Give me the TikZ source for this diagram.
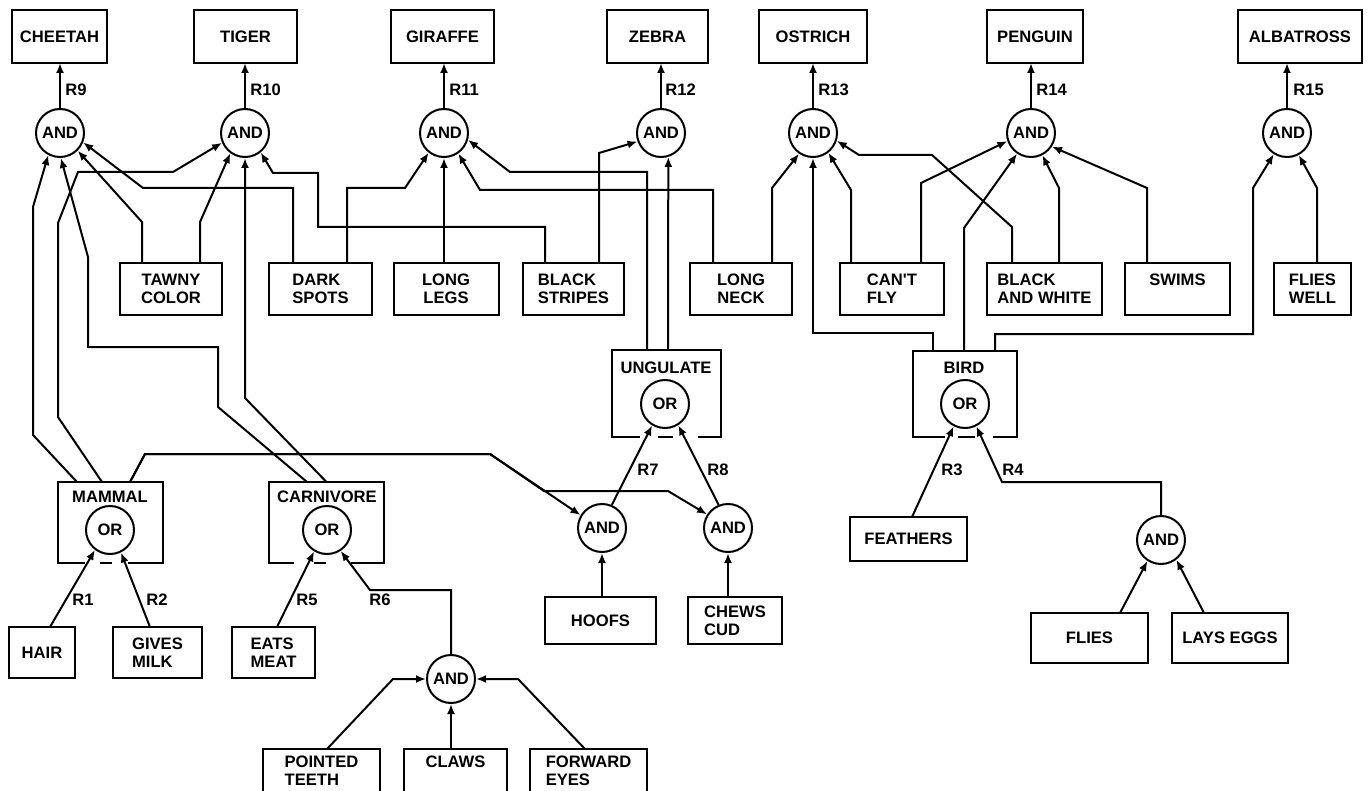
\documentclass[tikz,border=0pt]{standalone}
\usepackage{fontspec}
\setmainfont{Liberation Sans}
\usetikzlibrary{arrows.meta,calc}
\newcommand\labf{\fontsize{8.3}{9}\selectfont\bfseries}
\begin{document}
\begin{tikzpicture}[x=0.5pt,y=-0.5pt,
  wh/.style 2 args={minimum width=#1*0.5pt, minimum height=#2*0.5pt},
  box/.style={draw, line width=1pt, font=\labf, align=left, inner sep=0pt, outer sep=0pt},
  frame/.style={inner sep=0pt, outer sep=0pt},
  gate/.style={draw, circle, line width=1pt, minimum size=24pt, inner sep=0pt, font=\labf},
  lbl/.style={font=\labf, inner sep=0pt},
  wire/.style={line width=1pt},
  arr/.style={wire, -{Latex[length=5pt,width=4pt]}}]
\fill[white] (0,0) rectangle (1370,791);
\useasboundingbox (0,0) rectangle (1370,791);

% top result boxes
\node[box, wh={95}{53}] (cheetah) at (59.5,36.5) {CHEETAH};
\node[box, wh={103}{53}] (tiger) at (245.5,36.5) {TIGER};
\node[box, wh={103}{53}] (giraffe) at (442.5,36.5) {GIRAFFE};
\node[box, wh={101}{53}] (zebra) at (657.5,36.5) {ZEBRA};
\node[box, wh={108}{53}] (ostrich) at (813,36.5) {OSTRICH};
\node[box, wh={96}{53}] (penguin) at (1035,36.5) {PENGUIN};
\node[box, wh={124}{53}] (albatross) at (1300,36.5) {ALBATROSS};

% top AND gates
\node[gate] (and9) at (60,133) {AND};
\node[gate] (and10) at (245,133) {AND};
\node[gate] (and11) at (444,133) {AND};
\node[gate] (and12) at (661,133) {AND};
\node[gate] (and13) at (813,133) {AND};
\node[gate] (and14) at (1031,133) {AND};
\node[gate] (and15) at (1287,133) {AND};

\draw[arr] (and9.north) -- (and9.north |- cheetah.south);
\draw[arr] (and10.north) -- (and10.north |- tiger.south);
\draw[arr] (and11.north) -- (and11.north |- giraffe.south);
\draw[arr] (and12.north) -- (and12.north |- zebra.south);
\draw[arr] (and13.north) -- (and13.north |- ostrich.south);
\draw[arr] (and14.north) -- (and14.north |- penguin.south);
\draw[arr] (and15.north) -- (and15.north |- albatross.south);

\node[lbl, anchor=west] (r9) at (65,90) {R9};
\node[lbl, anchor=west] (r10) at (250,90) {R10};
\node[lbl, anchor=west] (r11) at (449,90) {R11};
\node[lbl, anchor=west] (r12) at (665,90) {R12};
\node[lbl, anchor=west] (r13) at (818,90) {R13};
\node[lbl, anchor=west] (r14) at (1036,90) {R14};
\node[lbl, anchor=west] (r15) at (1293,90) {R15};

% attribute boxes, middle row
\node[box, wh={102}{52}, align=center] (tawny) at (171,289) {TAWNY\\COLOR};
\node[box, wh={103}{52}] (dark) at (320.5,289) {DARK\\SPOTS};
\node[box, wh={105}{52}, align=center] (legs) at (446,289) {LONG\\LEGS};
\node[box, wh={101}{52}] (stripes) at (573.5,289) {BLACK\\STRIPES};
\node[box, wh={102}{52}, align=center] (neck) at (741,289) {LONG\\NECK};
\node[box, wh={104}{52}] (cantfly) at (892,289) {CAN\textquotesingle T\\FLY};
\node[box, wh={115}{52}] (bw) at (1044.5,289) {BLACK\\AND WHITE};
\node[box, wh={105}{52}] (swims) at (1177.5,289) {SWIMS\\\mbox{}};
\node[box, wh={77}{52}] (flieswell) at (1312.5,289) {FLIES\\WELL};

% OR frames
\node[frame, wh={109}{87}] (ungulate) at (666.5,393.5) {};
\node[lbl] (ungulatelbl) at (666,368) {UNGULATE};
\node[gate] (ungor) at (665,404) {OR};
\draw[wire] ($(ungulate.south west)+(28,0)$) -- (ungulate.south west) -- (ungulate.north west) -- (ungulate.north east) -- (ungulate.south east) -- ($(ungulate.south west)+(86,0)$);
\draw[wire] ($(ungulate.south west)+(46,0)$) -- ($(ungulate.south west)+(61,0)$);

\node[frame, wh={104}{86}] (bird) at (965,394) {};
\node[lbl] (birdlbl) at (964,368) {BIRD};
\node[gate] (bor) at (965,404) {OR};
\draw[wire] ($(bird.south west)+(32,0)$) -- (bird.south west) -- (bird.north west) -- (bird.north east) -- (bird.south east) -- ($(bird.south west)+(80,0)$);
\draw[wire] ($(bird.south west)+(45,0)$) -- ($(bird.south west)+(62,0)$);

\node[frame, wh={105}{81}] (mammal) at (110.5,522.5) {};
\node[lbl] (mammallbl) at (110,497) {MAMMAL};
\node[gate] (mor) at (110,530) {OR};
\draw[wire] ($(mammal.south west)+(27,0)$) -- (mammal.south west) -- (mammal.north west) -- (mammal.north east) -- (mammal.south east) -- ($(mammal.south west)+(70,0)$);
\draw[wire] ($(mammal.south west)+(42,0)$) -- ($(mammal.south west)+(54,0)$);

\node[frame, wh={115}{81}] (carn) at (326.5,522.5) {};
\node[lbl] (carnlbl) at (327,497) {CARNIVORE};
\node[gate] (cor) at (327,530) {OR};
\draw[wire] ($(carn.south west)+(25,0)$) -- (carn.south west) -- (carn.north west) -- (carn.north east) -- (carn.south east) -- ($(carn.south west)+(82,0)$);
\draw[wire] ($(carn.south west)+(45,0)$) -- ($(carn.south west)+(57,0)$);

% lower gates and facts
\node[gate] (and7) at (602,528) {AND};
\node[gate] (and8) at (728,528) {AND};
\node[box, wh={111}{47}] (hoofs) at (600.5,620.5) {HOOFS};
\node[box, wh={94}{47}] (chews) at (735,620.5) {CHEWS\\CUD};
\node[box, wh={117}{44}] (feathers) at (908.5,539) {FEATHERS};
\node[gate] (and4) at (1161,540) {AND};
\node[box, wh={117}{50}] (flies) at (1089.5,638) {FLIES};
\node[box, wh={116}{50}] (lays) at (1230,638) {LAYS EGGS};
\node[box, wh={66}{51}] (hair) at (42,652.5) {HAIR};
\node[box, wh={89}{51}] (gives) at (157.5,652.5) {GIVES\\MILK};
\node[box, wh={83}{51}] (eats) at (273.5,652.5) {EATS\\MEAT};
\node[gate] (and6) at (451,679) {AND};
\node[box, wh={117}{44}] (pointed) at (321.5,771) {POINTED\\TEETH};
\node[box, wh={103}{44}] (claws) at (455.5,771) {CLAWS\\\mbox{}};
\node[box, wh={117}{44}] (forward) at (588.5,771) {FORWARD\\EYES};

% rule labels
\node[lbl] (r1) at (83,600) {R1};
\node[lbl] (r2) at (157,600) {R2};
\node[lbl] (r5) at (307,600) {R5};
\node[lbl] (r6) at (380,600) {R6};
\node[lbl] (r7) at (648,470) {R7};
\node[lbl] (r8) at (718,470) {R8};
\node[lbl] (r3) at (952,470) {R3};
\node[lbl] (r4) at (1013,470) {R4};

% connectors into the top AND gates
\draw[arr] ($(mammal.north)+(-33.5,0)$) -- (33,435) -- (33,207) -- (and9.242);
\draw[arr] ($(mammal.north)+(-8.5,0)$) -- (58,417) -- (58,223) -- (78,172) -- (173,172) -- (and10.203);
\draw[arr] ($(carn.north)+(-19.5,0)$) -- (218,407) -- (218,347) -- (88,347) -- (88,257) -- (and9.272);
\draw[arr] (carn.north) -- (245,398) -- (and10.south);
\draw[arr] ($(tawny.north)+(-29,0)$) -- (142,222) -- (and9.315);
\draw[arr] ($(tawny.north)+(29,0)$) -- (200,222) -- (and10.234);
\draw[arr] ($(dark.north)+(-27.5,0)$) -- (293,188) -- (143,188) -- (and9.338);
\draw[arr] ($(dark.north)+(26.5,0)$) -- (347,188) -- (405,188) -- (and11.232);
\draw[arr] (and11.south |- legs.north) -- (and11.south);
\draw[arr] ($(stripes.north)+(-28.5,0)$) -- (545,227) -- (318,227) -- (318,173) -- (273,173) -- (and10.309);
\draw[arr] ($(stripes.north)+(25.5,0)$) -- (599,153) -- (and12.200);
\draw[arr] ($(neck.north)+(-28,0)$) -- (713,190) -- (480,190) -- (and11.305);
\draw[arr] ($(neck.north)+(31,0)$) -- (772,188) -- (and13.236);
\draw[arr] ($(ungulate.north)+(-19.5,0)$) -- (647,172) -- (510,172) -- (and11.344);
\draw[arr] ($(ungulate.north)+(1.5,0)$) -- (and12.287);
\draw[arr] ($(bird.north)+(-32,0)$) -- (933,333) -- (813,333) -- (and13.south);
\draw[arr] ($(cantfly.north)+(-41,0)$) -- (851,190) -- (and13.308);
\draw[arr] ($(cantfly.north)+(29,0)$) -- (921,183) -- (and14.199);
\draw[arr] ($(bw.north)+(-32.5,0)$) -- (1012,227) -- (932,155) -- (859,155) -- (and13.342);
\draw[arr] ($(bird.north)+(-1,0)$) -- (964,228) -- (and14.236);
\draw[arr] ($(bw.north)+(14.5,0)$) -- (1059,188) -- (and14.297);
\draw[arr] ($(swims.north)+(-30.5,0)$) -- (1147,188) -- (and14.327);
\draw[arr] ($(bird.north)+(30,0)$) -- (995,334) -- (1253,334) -- (1253,188) -- (and15.238);
\draw[arr] ($(flieswell.north)+(4.5,0)$) -- (1317,188) -- (and15.298);

% ungulate rules
\draw[arr] ($(mammal.north)+(19.5,0)$) -- (145,454) -- (490,454) -- (and7.149);
\draw[arr] ($(mammal.north)+(19.5,0)$) -- (145,454) -- (490,454) -- (544,491) -- (668,491) -- (and8.147);
\draw[arr] (and7.south |- hoofs.north) -- (and7.south);
\draw[arr] (and8.south |- chews.north) -- (and8.south);
\draw[arr] (and7.67) -- (ungor.239);
\draw[arr] (and8.112) -- (ungor.302);

% mammal and carnivore rules
\draw[arr] ($(hair.north)+(8,0)$) -- (mor.233);
\draw[arr] ($(gives.north)+(-7.5,0)$) -- (mor.296);
\draw[arr] ($(eats.north)+(3.5,0)$) -- (cor.239);
\draw[arr] (and6.north) -- (451,590) -- (370,590) -- (cor.303);
\draw[arr] ($(pointed.north)+(5.5,0)$) -- (393,679) -- (and6.west);
\draw[arr] (and6.south |- claws.north) -- (and6.south);
\draw[arr] ($(forward.north)+(-3.5,0)$) -- (518,679) -- (and6.east);

% bird rules
\draw[arr] ($(feathers.north)+(3.5,0)$) -- (bor.243);
\draw[arr] (and4.north) -- (1161,482) -- (1002,482) -- (bor.297);
\draw[arr] ($(flies.north)+(30.5,0)$) -- (and4.237);
\draw[arr] ($(lays.north)+(-26,0)$) -- (and4.308);
\end{tikzpicture}
\end{document}
